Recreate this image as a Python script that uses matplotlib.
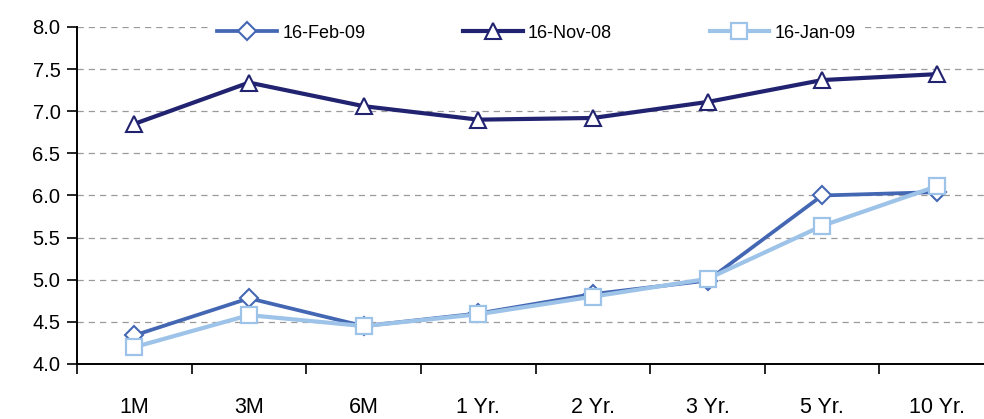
import matplotlib.pyplot as plt

plt.rcParams['font.family'] = ['Liberation Sans', 'DejaVu Sans']

tenors = ['1M', '3M', '6M', '1 Yr.', '2 Yr.', '3 Yr.', '5 Yr.', '10 Yr.']
feb_09 = [4.34, 4.78, 4.45, 4.60, 4.83, 4.99, 6.00, 6.04]
nov_08 = [6.85, 7.34, 7.06, 6.90, 6.92, 7.11, 7.37, 7.44]
jan_09 = [4.20, 4.58, 4.45, 4.59, 4.80, 5.01, 5.64, 6.11]

fig = plt.figure(figsize=(9.84, 4.19), dpi=100)
ax = fig.add_axes([0.0783, 0.1313, 0.932, 0.8043])

x = range(len(tenors))
ax.plot(x, feb_09, color='#4467B3', lw=2.7, marker='D', ms=9,
        mfc='white', mec='#4467B3', mew=1.5, label='16-Feb-09', zorder=3)
ax.plot(x, nov_08, color='#222370', lw=3.0, marker='^', ms=12,
        mfc='white', mec='#222370', mew=1.5, label='16-Nov-08', zorder=3)
ax.plot(x, jan_09, color='#9DC3E8', lw=3.0, marker='s', ms=11,
        mfc='white', mec='#9DC3E8', mew=1.6, label='16-Jan-09', zorder=4)

ax.set_xlim(-0.5, len(tenors) - 0.5)
ax.set_ylim(4.0, 8.0)
ax.set_yticks([4.0, 4.5, 5.0, 5.5, 6.0, 6.5, 7.0, 7.5, 8.0])
ax.set_yticklabels(['4.0', '4.5', '5.0', '5.5', '6.0', '6.5', '7.0', '7.5', '8.0'])
# category boundaries get the ticks, names sit between them
ax.set_xticks([i - 0.5 for i in range(len(tenors) + 1)])
ax.set_xticklabels([])
ax.set_xticks(list(x), minor=True)
ax.set_xticklabels(tenors, minor=True)
ax.tick_params(axis='x', which='major', direction='out', length=7, width=1.2)
ax.tick_params(axis='x', which='minor', length=0, pad=24, labelsize=15.5)
ax.tick_params(axis='y', direction='out', length=7, width=1.2, labelsize=14.5, pad=5)

ax.yaxis.grid(True, linestyle=(0, (5, 4)), color='#9a9a9a', lw=0.9)
ax.set_axisbelow(True)
for side in ['top', 'right']:
    ax.spines[side].set_visible(False)
for side in ['left', 'bottom']:
    ax.spines[side].set_linewidth(1.4)
ax.spines['bottom'].set_zorder(5)

leg = ax.legend(loc='center', bbox_to_anchor=(0.501, 0.982), ncol=3,
                frameon=True, fancybox=False, edgecolor='none',
                facecolor='white', framealpha=1, fontsize=13,
                handlelength=3.3, columnspacing=5.4, borderpad=0.3,
                handletextpad=0.3)
leg.set_zorder(6)

fig.savefig('out.png', dpi=100)
